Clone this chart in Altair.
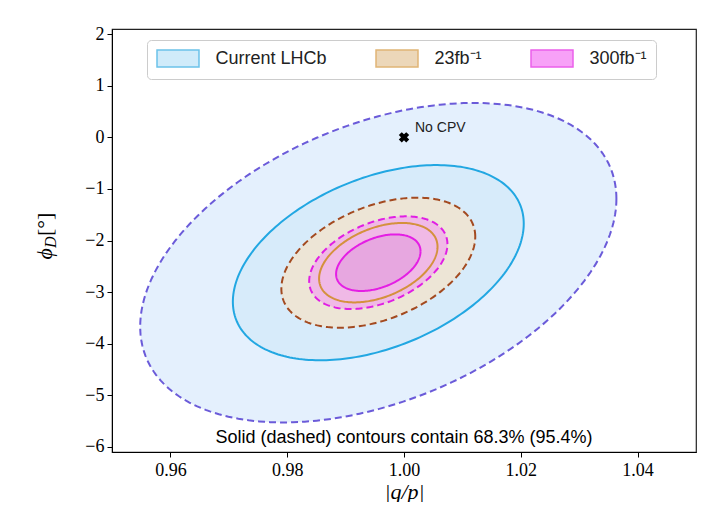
import numpy as np
import pandas as pd
import altair as alt

# ---------------- data ----------------
scenarios = ["Current LHCb", "23fb⁻¹", "300fb⁻¹"]
center_qp = 0.9956
center_phi = -2.43
sigma_qp = [0.01643, 0.00669, 0.00477]
sigma_phi = [1.248, 0.508, 0.362]
rho = [0.40, 0.40, 0.40]
levels = ["68.3%", "95.4%"]
coverage = [0.683, 0.954]

x_ticks = [0.96, 0.98, 1.00, 1.02, 1.04]
y_ticks = [-6, -5, -4, -3, -2, -1, 0, 1, 2]

no_cpv_qp = [1.0]
no_cpv_phi = [0.0]
no_cpv_label = ["No CPV"]
note = "Solid (dashed) contours contain 68.3% (95.4%)"

# ---------------- styles ----------------
legend_fill = ["#bde3f8", "#e5c79c", "#f57af5"]
legend_stroke = ["#2ea9e1", "#d4963d", "#e21de2"]
region_fill = {
    ("Current LHCb", "95.4%"): "#e4f0fd",
    ("Current LHCb", "68.3%"): "#d7ebfa",
    ("23fb⁻¹", "95.4%"): "#ede5d6",
    ("23fb⁻¹", "68.3%"): "#e8dbc7",
    ("300fb⁻¹", "95.4%"): "#f0b9e6",
    ("300fb⁻¹", "68.3%"): "#e7a7e0",
}
line_color = {
    ("Current LHCb", "95.4%"): "#6b5bd9",
    ("Current LHCb", "68.3%"): "#22a7e2",
    ("23fb⁻¹", "95.4%"): "#a34a20",
    ("23fb⁻¹", "68.3%"): "#d4913d",
    ("300fb⁻¹", "95.4%"): "#e01ee4",
    ("300fb⁻¹", "68.3%"): "#e41ee4",
}

# ---------------- contour table (Gaussian ellipses) ----------------
theta = np.linspace(0, 2 * np.pi, 241)
rows = []
for s, sx, sy, r in zip(scenarios, sigma_qp, sigma_phi, rho):
    for lev, c in zip(levels, coverage):
        k = np.sqrt(-2 * np.log(1 - c))
        xs = center_qp + k * sx * np.cos(theta)
        ys = center_phi + k * sy * (r * np.cos(theta) + np.sqrt(1 - r * r) * np.sin(theta))
        for i, (a, b) in enumerate(zip(xs, ys)):
            rows.append({"scenario": s, "level": lev, "i": i, "qp": a, "phi": b})
df = pd.DataFrame(rows)

serif = "Liberation Serif"
sans = "Liberation Sans"

xscale = alt.Scale(domain=[0.95, 1.05], nice=False, zero=False)
yscale = alt.Scale(domain=[-6.1, 2.1], nice=False, zero=False)
xaxis = alt.Axis(values=x_ticks, format=".2f", title="|q/p|", titleFont=serif,
                 titleFontStyle="italic", titleFontWeight="normal", titleFontSize=22,
                 titleColor="black", titlePadding=2, labelFont=serif, labelFontSize=18,
                 labelColor="black", tickColor="black", domainColor="black", tickSize=5,
                 labelPadding=4, grid=False, labelFlush=False)
yaxis = alt.Axis(values=y_ticks, format="d", title=None, labelFont=serif, labelFontSize=18,
                 labelColor="black", tickColor="black", domainColor="black", tickSize=5,
                 labelPadding=3, grid=False, labelFlush=False)

X = alt.X("qp:Q", scale=xscale, axis=xaxis)
Y = alt.Y("phi:Q", scale=yscale, axis=yaxis)

order = [(s, lev) for s in scenarios for lev in ["95.4%", "68.3%"]]

fills = []
lines = []
for s, lev in order:
    sub = df[(df.scenario == s) & (df.level == lev)]
    fills.append(
        alt.Chart(sub).mark_line(fill=region_fill[(s, lev)], strokeOpacity=0, strokeWidth=0)
        .encode(x=X, y=Y, order=alt.Order("i:Q"))
    )
    kw = dict(stroke=line_color[(s, lev)], strokeWidth=2, fill="transparent")
    if lev == "95.4%":
        kw["strokeDash"] = [7, 4]
    lines.append(
        alt.Chart(sub).mark_line(**kw).encode(x=X, y=Y, order=alt.Order("i:Q"))
    )

legend = alt.Legend(title=None, orient="none", legendX=35, legendY=11, direction="horizontal",
                    columns=3, symbolType="M-2.47,-1L2.47,-1L2.47,1L-2.47,1Z", symbolSize=289,
                    symbolOffset=12.5, symbolStrokeWidth=1.5, labelOffset=28, columnPadding=46,
                    labelFont=sans, labelFontSize=18, labelColor="#222222", padding=9,
                    fillColor="white", strokeColor="#cccccc", cornerRadius=4)

leg_df = pd.DataFrame({"scenario": scenarios, "qp": [center_qp] * 3, "phi": [center_phi] * 3})
leg_layer = alt.Chart(leg_df).mark_point(filled=True, size=0, strokeWidth=1.5).encode(
    x=X, y=Y,
    fill=alt.Fill("scenario:N", scale=alt.Scale(domain=scenarios, range=legend_fill), legend=legend),
    stroke=alt.Stroke("scenario:N", scale=alt.Scale(domain=scenarios, range=legend_stroke), legend=legend),
)

cpv_df = pd.DataFrame({"qp": no_cpv_qp, "phi": no_cpv_phi, "label": no_cpv_label})
cpv_pt = alt.Chart(cpv_df).mark_point(shape="cross", filled=True, size=110, angle=45, color="black",
                                      opacity=1).encode(x=X, y=Y)
cpv_txt = alt.Chart(cpv_df).mark_text(align="left", baseline="middle", dx=11, dy=-9, font=sans,
                                      fontSize=14, color="#222222").encode(x=X, y=Y, text="label:N")

note_df = pd.DataFrame({"qp": [1.0], "phi": [-5.83], "label": [note]})
note_txt = alt.Chart(note_df).mark_text(align="center", baseline="middle", font=sans, fontSize=18,
                                        color="black").encode(x=X, y=Y, text="label:N")

# y-axis title built as rotated text: phi, subscript D, [deg]
yt_df = pd.DataFrame({"a": ["ϕ"], "b": ["D"], "c": ["[°]"]})
yt1 = alt.Chart(yt_df).mark_text(angle=270, align="right", baseline="alphabetic", font=serif,
                                 fontStyle="italic", fontSize=22, color="black").encode(
    x=alt.value(-60), y=alt.value(219), text="a:N")
yt2 = alt.Chart(yt_df).mark_text(angle=270, align="left", baseline="alphabetic", font=serif,
                                 fontStyle="italic", fontSize=16, dy=4, color="black").encode(
    x=alt.value(-60), y=alt.value(219), text="b:N")
yt3 = alt.Chart(yt_df).mark_text(angle=270, align="left", baseline="alphabetic", font=serif,
                                 fontSize=22, dx=12, color="black").encode(
    x=alt.value(-60), y=alt.value(219), text="c:N")

chart = alt.layer(*fills, *lines, leg_layer, cpv_pt, cpv_txt, note_txt, yt1, yt2, yt3).properties(
    width=584, height=423,
    padding={"left": 104, "top": 21, "right": 1, "bottom": 50},
    autosize=alt.AutoSizeParams(type="none"),
    background="white",
).configure_view(stroke="#222222", strokeWidth=1.2)

chart.save("out.html", embed_options={"renderer": "svg", "actions": False})
